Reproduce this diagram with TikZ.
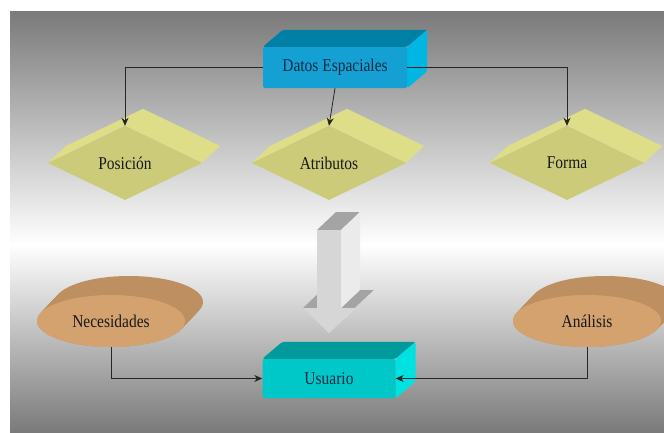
\documentclass[tikz,border=0pt]{standalone}
\usepackage{fontspec}
\setmainfont{Liberation Serif}
\usepackage{xcolor}
\usepackage{tikz}
\usetikzlibrary{positioning,arrows,arrows.meta,shapes.geometric,calc}

\definecolor{fondo}{HTML}{7A7A7A}
\definecolor{tinta}{HTML}{102A45}
\definecolor{azulfrente}{HTML}{14A0D2}
\definecolor{azulsup}{HTML}{0080A5}
\definecolor{azullado}{HTML}{00B6E3}
\definecolor{turqfrente}{HTML}{00C8C8}
\definecolor{turqsup}{HTML}{009A9A}
\definecolor{turqlado}{HTML}{00E2E2}
\definecolor{rombofrente}{HTML}{CCCB79}
\definecolor{rombolado}{HTML}{DEDD88}
\definecolor{discofrente}{HTML}{D3A26F}
\definecolor{discolado}{HTML}{BE8F60}
\definecolor{flechafrente}{HTML}{D6D6D6}
\definecolor{flechalado}{HTML}{EBEBEB}
\definecolor{flechasup}{HTML}{A4A4A4}

\pgfdeclarelayer{bg}
\pgfdeclarelayer{depth}
\pgfsetlayers{bg,depth,main}

\begin{document}
\begin{tikzpicture}[>={Stealth[length=8pt,width=7pt]},semithick,x=1pt,y=-1pt,node distance=204pt]
    \tikzstyle{texto}=[text=black!90,font=\fontsize{18}{20}\selectfont\addfontfeature{FakeStretch=0.86}]
    \tikzstyle{caja}=[texto,rectangle,rounded corners=2pt,inner sep=0pt,text=tinta]
    \tikzstyle{rombo}=[texto,diamond,inner sep=0pt,fill=rombofrente,minimum width=154pt,minimum height=74pt]
    \tikzstyle{disco}=[texto,ellipse,inner sep=0pt,fill=discofrente,minimum width=148pt,minimum height=52pt]
    \tikzstyle{linea}=[->,draw=black!85,line width=0.8pt]
    \useasboundingbox (0,0) rectangle (664,432);
    \begin{pgfonlayer}{bg}
    \fill[top color=fondo,bottom color=white] (10,11) rectangle (664,245);
    \fill[top color=white,bottom color=fondo] (10,244.5) rectangle (664,432);
    \end{pgfonlayer}

    % flecha gris
    \fill[flechasup] (317,230) -- (336,212) -- (360,212) -- (341,230) -- cycle;
    \fill[flechasup] (303,308) -- (322,290) -- (336,290) -- (317,308) -- cycle;
    \fill[flechasup] (341,308) -- (360,290) -- (374,290) -- (355,308) -- cycle;
    \fill[flechalado] (341,230) -- (360,212) -- (360,290) -- (341,308) -- cycle;
    \fill[flechalado] (355,308) -- (374,290) -- (348,315) -- (329,333) -- cycle;
    \fill[flechafrente] (317,230) -- (341,230) -- (341,308) -- (355,308) -- (329,333)
        -- (303,308) -- (317,308) -- cycle;

    \node[caja,fill=azulfrente,minimum width=144pt,minimum height=41pt] (datos) at (335,67.5) {Datos Espaciales};
    \node[rombo]    (atr) at (329,163)      {Atributos};
    \node[rombo]    (pos)[left of=atr]      {Posición};
    \node[rombo]    (forma)[right of=atr,node distance=238pt] {Forma};
    \node[caja,fill=turqfrente,minimum width=133pt,minimum height=39pt] (usuario)[below of=atr,node distance=215.5pt] {Usuario};
    \node[disco]    (nec) at (111,321)      {Necesidades};
    \node[disco]    (anal) at (587,321)     {Análisis};

    \begin{pgfonlayer}{depth}
    \foreach \n/\s/\l in {datos/azulsup/azullado,usuario/turqsup/turqlado}{
        \fill[\s,rounded corners=2pt] (\n.north west) -- ++(20,-17) -- ($(\n.north east)+(20,-17)$) -- (\n.north east) -- cycle;
        \fill[\l,rounded corners=2pt] (\n.north east) -- ++(20,-17) -- ($(\n.south east)+(20,-17)$) -- (\n.south east) -- cycle;
    }
    \foreach \n in {pos,atr,forma}
        \fill[rombolado] (\n.west) -- ++(18,-17) -- ($(\n.north)+(18,-17)$) -- ($(\n.east)+(18,-17)$) -- (\n.east) -- (\n.north) -- cycle;
    \foreach \n in {nec,anal}
        \foreach \k in {0,...,18}
            \fill[discolado] ($(\n.center)+(\k,-\k*19/18)$) ellipse (74pt and 26pt);
    \end{pgfonlayer}

    \draw[linea] (datos.west) -| (pos.north);
    \draw[linea] (datos.south) -- (atr.north);
    \draw[linea] (datos.east) -| (forma.north);
    \draw[linea] (nec.south) |- (usuario.west);
    \draw[linea] (anal.south) |- (usuario.east);
\end{tikzpicture}
\end{document}
